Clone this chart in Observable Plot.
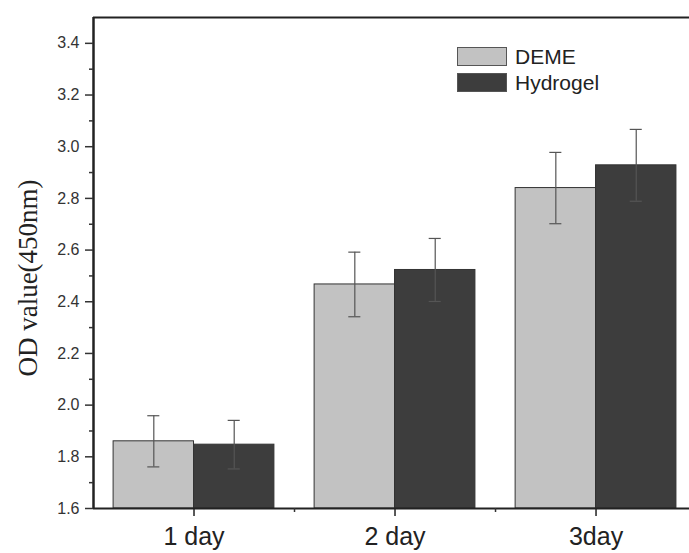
<!DOCTYPE html>
<html><head><meta charset="utf-8">
<script src="https://cdn.jsdelivr.net/npm/d3@7"></script>
<script src="https://cdn.jsdelivr.net/npm/@observablehq/plot@0.6"></script>
<style>
body{margin:0;background:#fff;}
#wrap{position:relative;width:689px;height:553px;overflow:hidden;}
.leg{position:absolute;left:457px;height:19px;font-family:"Liberation Sans",Arial,sans-serif;font-size:21px;color:#222;display:flex;align-items:center;white-space:nowrap;}
.sw{width:50px;height:19px;border:1px solid #555;margin-right:8px;box-sizing:border-box;}
</style></head><body><div id="wrap"></div>
<script>
const categories = ["1 day", "2 day", "3day"];
const series = ["DEME", "Hydrogel"];
const demeValues = [1.86, 2.467, 2.84];
const demeErrors = [0.099, 0.125, 0.138];
const hydrogelValues = [1.847, 2.523, 2.928];
const hydrogelErrors = [0.094, 0.122, 0.139];
const yTicks = [1.6, 1.8, 2.0, 2.2, 2.4, 2.6, 2.8, 3.0, 3.2, 3.4];
const yMinorTicks = [1.7, 1.9, 2.1, 2.3, 2.5, 2.7, 2.9, 3.1, 3.3];
const yLabel = "OD value(450nm)";
const seriesColors = ["#c2c2c2", "#3d3d3d"];

const barW = 0.4, capHalf = 0.03;
const rows = [];
categories.forEach((c, i) => {
  const pos = i + 1;
  rows.push({series: "DEME", x1: pos - barW, x2: pos, value: demeValues[i], err: demeErrors[i]});
  rows.push({series: "Hydrogel", x1: pos, x2: pos + barW, value: hydrogelValues[i], err: hydrogelErrors[i]});
});
rows.forEach(d => { d.cx = (d.x1 + d.x2) / 2; d.lo = d.value - d.err; d.hi = d.value + d.err; });

const chart = Plot.plot({
  width: 689, height: 553,
  marginLeft: 93, marginRight: 0, marginTop: 17, marginBottom: 45,
  x: {domain: [0.5, 3.465], axis: null},
  y: {domain: [1.6, 3.5], axis: null},
  color: {domain: series, range: seriesColors},
  style: {background: "white", fontFamily: "'Liberation Sans', Arial, sans-serif"},
  marks: [
    Plot.rect(rows, {x1: "x1", x2: "x2", y1: 1.6, y2: "value", fill: "series", stroke: "#333", strokeWidth: 1}),
    Plot.ruleX(rows, {x: "cx", y1: "lo", y2: "hi", stroke: "#555", strokeWidth: 1.2}),
    Plot.ruleY(rows, {y: "hi", x1: d => d.cx - capHalf, x2: d => d.cx + capHalf, stroke: "#555", strokeWidth: 1.2}),
    Plot.ruleY(rows, {y: "lo", x1: d => d.cx - capHalf, x2: d => d.cx + capHalf, stroke: "#555", strokeWidth: 1.2}),
    Plot.ruleY([3.5], {stroke: "#222", strokeWidth: 2}),
    Plot.ruleY([1.6], {stroke: "#222", strokeWidth: 2}),
    Plot.ruleX([0.5], {stroke: "#222", strokeWidth: 2.5}),
    Plot.axisY({ticks: yTicks, tickSize: 8, tickPadding: 6, tickFormat: d => d.toFixed(1), fontSize: 16, color: "#333", strokeWidth: 1.5, label: null}),
    Plot.axisY({ticks: yMinorTicks, tickSize: 4, tickFormat: () => "", color: "#333", strokeWidth: 1.5, label: null}),
    Plot.axisX({ticks: [1, 2, 3], tickSize: 8, tickPadding: 11, tickFormat: d => categories[d - 1], fontSize: 25, color: "#222", strokeWidth: 1.5, label: null}),
    Plot.axisX({ticks: [1.5, 2.5], tickSize: 4, tickFormat: () => "", color: "#333", strokeWidth: 1.5, label: null}),
    Plot.text([yLabel], {frameAnchor: "left", textAnchor: "middle", lineAnchor: "middle", dx: -65, dy: 15, rotate: -90, fontFamily: "'Liberation Serif', 'Times New Roman', serif", fontSize: 27, fill: "#222"})
  ]
});
const wrap = document.getElementById("wrap");
wrap.appendChild(chart);
series.forEach((s, i) => {
  const div = document.createElement("div");
  div.className = "leg";
  div.style.top = (47 + i * 26) + "px";
  const sw = document.createElement("span");
  sw.className = "sw";
  sw.style.background = seriesColors[i];
  div.appendChild(sw);
  div.appendChild(document.createTextNode(s));
  wrap.appendChild(div);
});
</script></body></html>
